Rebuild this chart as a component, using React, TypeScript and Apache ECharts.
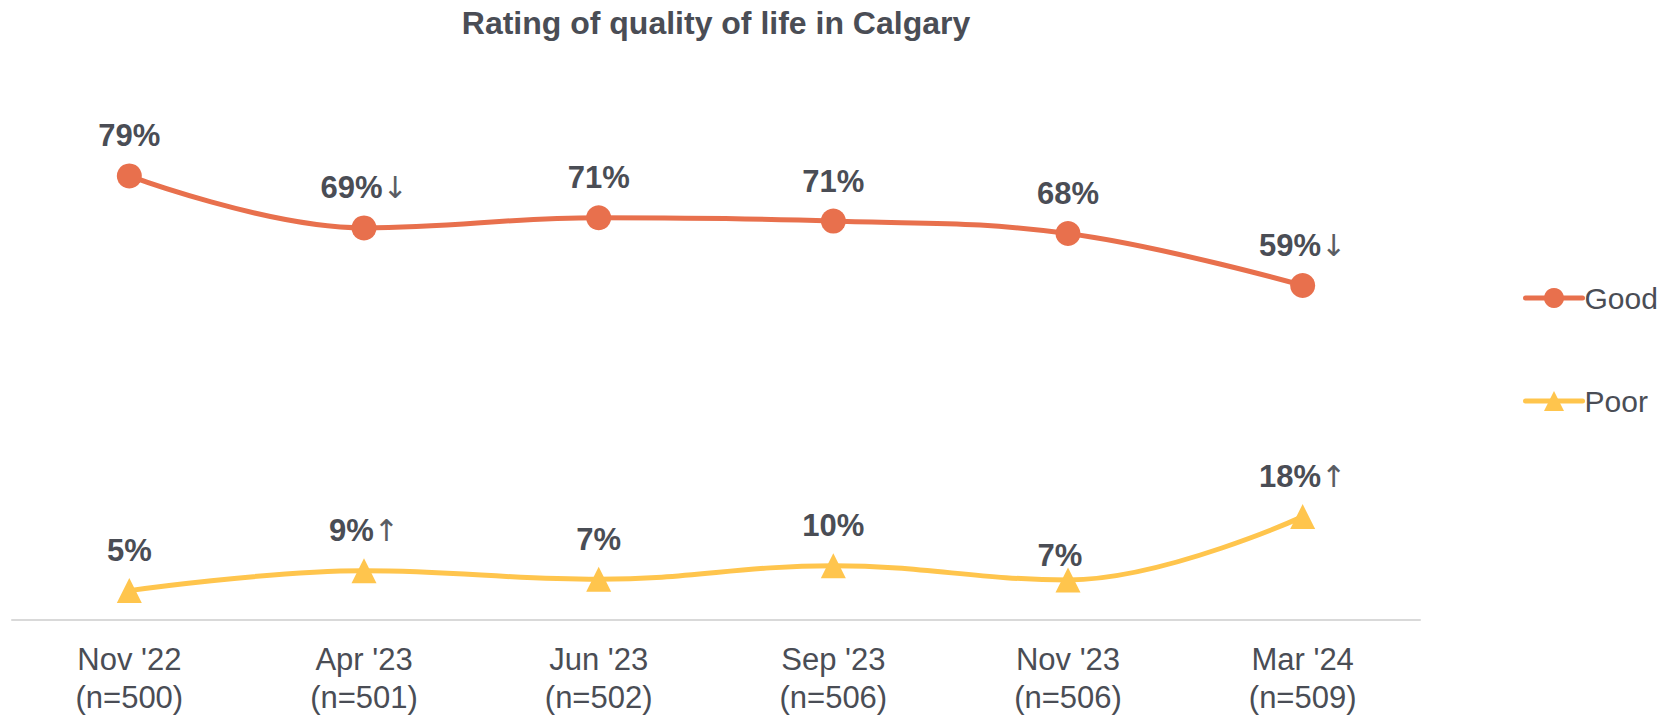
import React, { useEffect, useRef } from "react";
import * as echarts from "echarts";

const waves = ["Nov '22", "Apr '23", "Jun '23", "Sep '23", "Nov '23", "Mar '24"];
const sampleSizes = [500, 501, 502, 506, 506, 509];
const goodValues = [78.6, 69.4, 71.2, 70.6, 68.4, 59.2];
const poorValues = [5.2, 8.7, 7.2, 9.6, 7.1, 18.3];
const goodArrows = ["", "↓", "", "", "", "↓"];
const poorArrows = ["", "↑", "", "", "", "↑"];

const TEXT = "#4A4D55";
const GOOD = "#E8704D";
const POOR = "#FFC54D";
const FONT = "'Liberation Sans', Arial, sans-serif";

export default function App() {
  const ref = useRef<HTMLDivElement>(null);
  useEffect(() => {
    if (!ref.current) return;
    const chart = echarts.init(ref.current, undefined, { renderer: "svg" });
    const categories = waves.map((w, i) => `${w}\n(n=${sampleSizes[i]})`);
    const rich = {
      v: { fontSize: 31, fontWeight: "bold", color: TEXT, fontFamily: FONT },
      a: { fontSize: 30, fontWeight: "normal", color: "#5A5D63", fontFamily: "'DejaVu Sans', sans-serif" },
    };
    const mkData = (vals: number[], arrows: string[], offsets: Record<number, number[]>) =>
      vals.map((v, i) => {
        const item: any = { value: v, arrow: arrows[i] };
        if (offsets[i]) item.label = { offset: offsets[i] };
        return item;
      });
    const labelFmt = (p: any) => {
      const arrow = p.data.arrow ? `{a|${p.data.arrow}}` : "";
      return `{v|${Math.round(p.value)}%}${arrow}`;
    };
    chart.setOption({
      animation: false,
      textStyle: { fontFamily: FONT },
      graphic: [
        {
          type: "text",
          x: 716,
          y: 23,
          style: {
            text: "Rating of quality of life in Calgary",
            font: `bold 32px ${FONT}`,
            fill: TEXT,
            textAlign: "center",
            textVerticalAlign: "middle",
          },
        },
      ],
      legend: {
        orient: "vertical",
        left: 1518,
        top: 278,
        itemWidth: 57,
        itemHeight: 25,
        itemGap: 73,
        lineStyle: { width: 5, cap: "round" },
        textStyle: { fontSize: 30, color: TEXT, fontFamily: FONT, padding: [0, 0, 0, -3] },
        data: ["Good", "Poor"],
      },
      grid: { left: 12, width: 1408, top: 55, bottom: 95, containLabel: false },
      xAxis: {
        type: "category",
        data: categories,
        boundaryGap: true,
        axisLine: { show: true, lineStyle: { color: "#D9D9D9", width: 2 } },
        axisTick: { show: false },
        axisLabel: {
          fontSize: 31,
          color: TEXT,
          lineHeight: 38,
          margin: 20,
          fontFamily: FONT,
          interval: 0,
        },
      },
      yAxis: {
        type: "value",
        min: 0,
        max: 100,
        show: false,
        splitLine: { show: false },
      },
      series: [
        {
          name: "Good",
          type: "line",
          smooth: 0.4,
          symbol: "circle",
          symbolSize: 25,
          itemStyle: { color: GOOD },
          lineStyle: { color: GOOD, width: 5 },
          label: { show: true, position: "top", distance: 12, formatter: labelFmt, rich },
          data: mkData(goodValues, goodArrows, {}),
        },
        {
          name: "Poor",
          type: "line",
          smooth: 0.4,
          symbol: "triangle",
          symbolSize: 25,
          itemStyle: { color: POOR },
          lineStyle: { color: POOR, width: 5 },
          label: { show: true, position: "top", distance: 12, formatter: labelFmt, rich },
          data: mkData(poorValues, poorArrows, { 4: [-8, 16] }),
        },
      ],
    });
    return () => chart.dispose();
  }, []);
  return (
    <div
      ref={ref}
      style={{ position: "absolute", left: 0, top: 0, width: 1660, height: 716 }}
    />
  );
}
